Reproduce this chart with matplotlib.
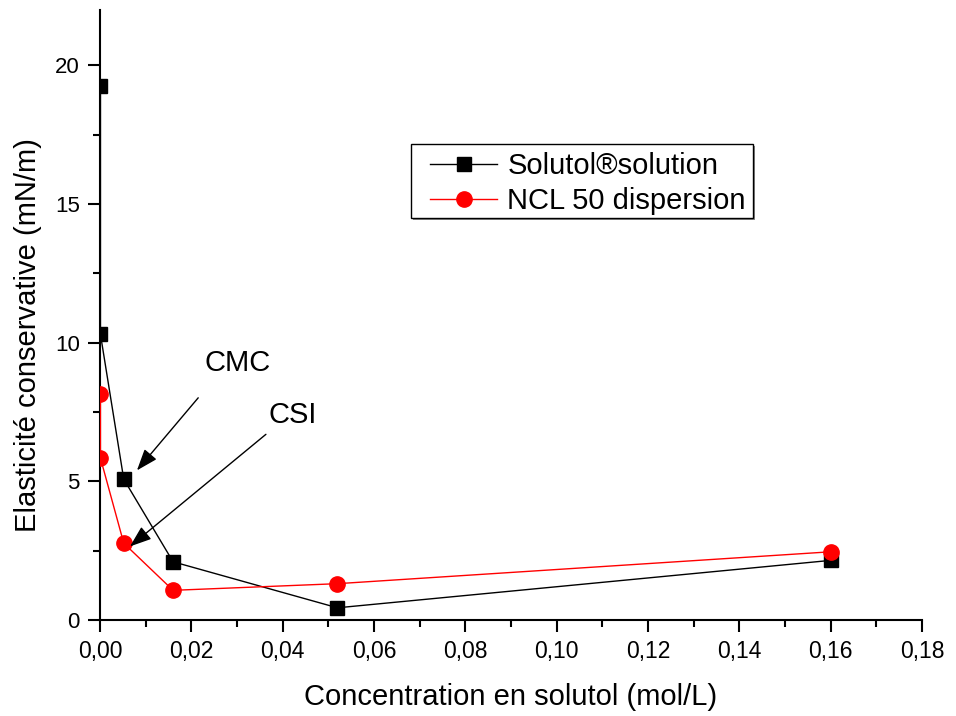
import matplotlib
matplotlib.use("Agg")
import matplotlib.pyplot as plt
from matplotlib.patches import Rectangle
from matplotlib.ticker import MultipleLocator, FixedLocator, FixedFormatter

# ---- data ----
sol_x = [0.0001, 0.0001, 0.0052, 0.016, 0.052, 0.16]
sol_y = [19.25, 10.3, 5.08, 2.1, 0.44, 2.15]
ncl_x = [0.0001, 0.0001, 0.0052, 0.016, 0.052, 0.16]
ncl_y = [8.15, 5.84, 2.77, 1.07, 1.31, 2.46]
x_ticks = [0.00, 0.02, 0.04, 0.06, 0.08, 0.10, 0.12, 0.14, 0.16, 0.18]
x_tick_labels = ["0,00", "0,02", "0,04", "0,06", "0,08", "0,10", "0,12", "0,14", "0,16", "0,18"]
y_ticks = [0, 5, 10, 15, 20]
y_tick_labels = ["0", "5", "10", "15", "20"]

base = "Liberation Sans"
plt.rcParams["font.family"] = [base, "DejaVu Sans"]

W, H = 956, 716
fig = plt.figure(figsize=(W / 100, H / 100), dpi=100)
ax = fig.add_axes([100 / W, 1 - 620 / H, 822 / W, 610 / H])

ax.plot(sol_x, sol_y, color="black", lw=1, marker="s", ms=9.5,
        label="Solutol®solution", zorder=3)
ax.plot(ncl_x, ncl_y, color="red", lw=1, marker="o", ms=11,
        label="NCL 50 dispersion", zorder=3)

ax.set_xlim(0, 0.18)
ax.set_ylim(0, 22)

for s in ["top", "right"]:
    ax.spines[s].set_visible(False)
for s in ["left", "bottom"]:
    ax.spines[s].set_linewidth(1.5)

ax.xaxis.set_major_locator(FixedLocator(x_ticks))
ax.xaxis.set_major_formatter(FixedFormatter(x_tick_labels))
ax.xaxis.set_minor_locator(MultipleLocator(0.01))
ax.yaxis.set_major_locator(FixedLocator(y_ticks))
ax.yaxis.set_major_formatter(FixedFormatter(y_tick_labels))
ax.yaxis.set_minor_locator(MultipleLocator(2.5))
ax.tick_params(which="major", direction="out", length=8.5, width=1.5)
ax.tick_params(which="minor", direction="out", length=5, width=1.5)
ax.tick_params(axis="x", which="major", labelsize=16.5, pad=6)
ax.tick_params(axis="y", which="major", labelsize=16, pad=6)

ax.set_xlabel("Concentration en solutol (mol/L)", fontsize=21, labelpad=14)
ax.set_ylabel("Elasticité conservative (mN/m)", fontsize=21)
ax.yaxis.set_label_coords(-58 / 822, (620 - 335) / 610)

ax.annotate("", xy=(0.0077, 5.32), xytext=(0.0219, 8.09),
            arrowprops=dict(arrowstyle="-|>,head_length=0.6,head_width=0.22",
                            color="black", lw=1, mutation_scale=22))
ax.annotate("", xy=(0.0061, 2.59), xytext=(0.0368, 6.76),
            arrowprops=dict(arrowstyle="-|>,head_length=0.6,head_width=0.22",
                            color="black", lw=1, mutation_scale=22))
ax.text(0.0302, 9.28, "CMC", fontsize=21, ha="center", va="center")
ax.text(0.0423, 7.41, "CSI", fontsize=21, ha="center", va="center")

# legend frame (with a light shadow) drawn in figure pixels
ax.add_patch(Rectangle((413 / W, 1 - 220 / H), 342 / W, 74 / H,
                       transform=fig.transFigure, facecolor="#888888",
                       edgecolor="none", zorder=4, clip_on=False))
ax.add_patch(Rectangle((411 / W, 1 - 218 / H), 342 / W, 74 / H,
                       transform=fig.transFigure, facecolor="white",
                       edgecolor="black", lw=1, zorder=5, clip_on=False))
leg = ax.legend(loc="upper left", bbox_to_anchor=(430 / W, 1 - 152 / H),
                bbox_transform=fig.transFigure, borderaxespad=0,
                prop={"size": 21}, frameon=False, handlelength=2.3,
                handletextpad=0.35, borderpad=0, labelspacing=0.25)
leg.set_zorder(10)

fig.savefig("out.png", dpi=100)
